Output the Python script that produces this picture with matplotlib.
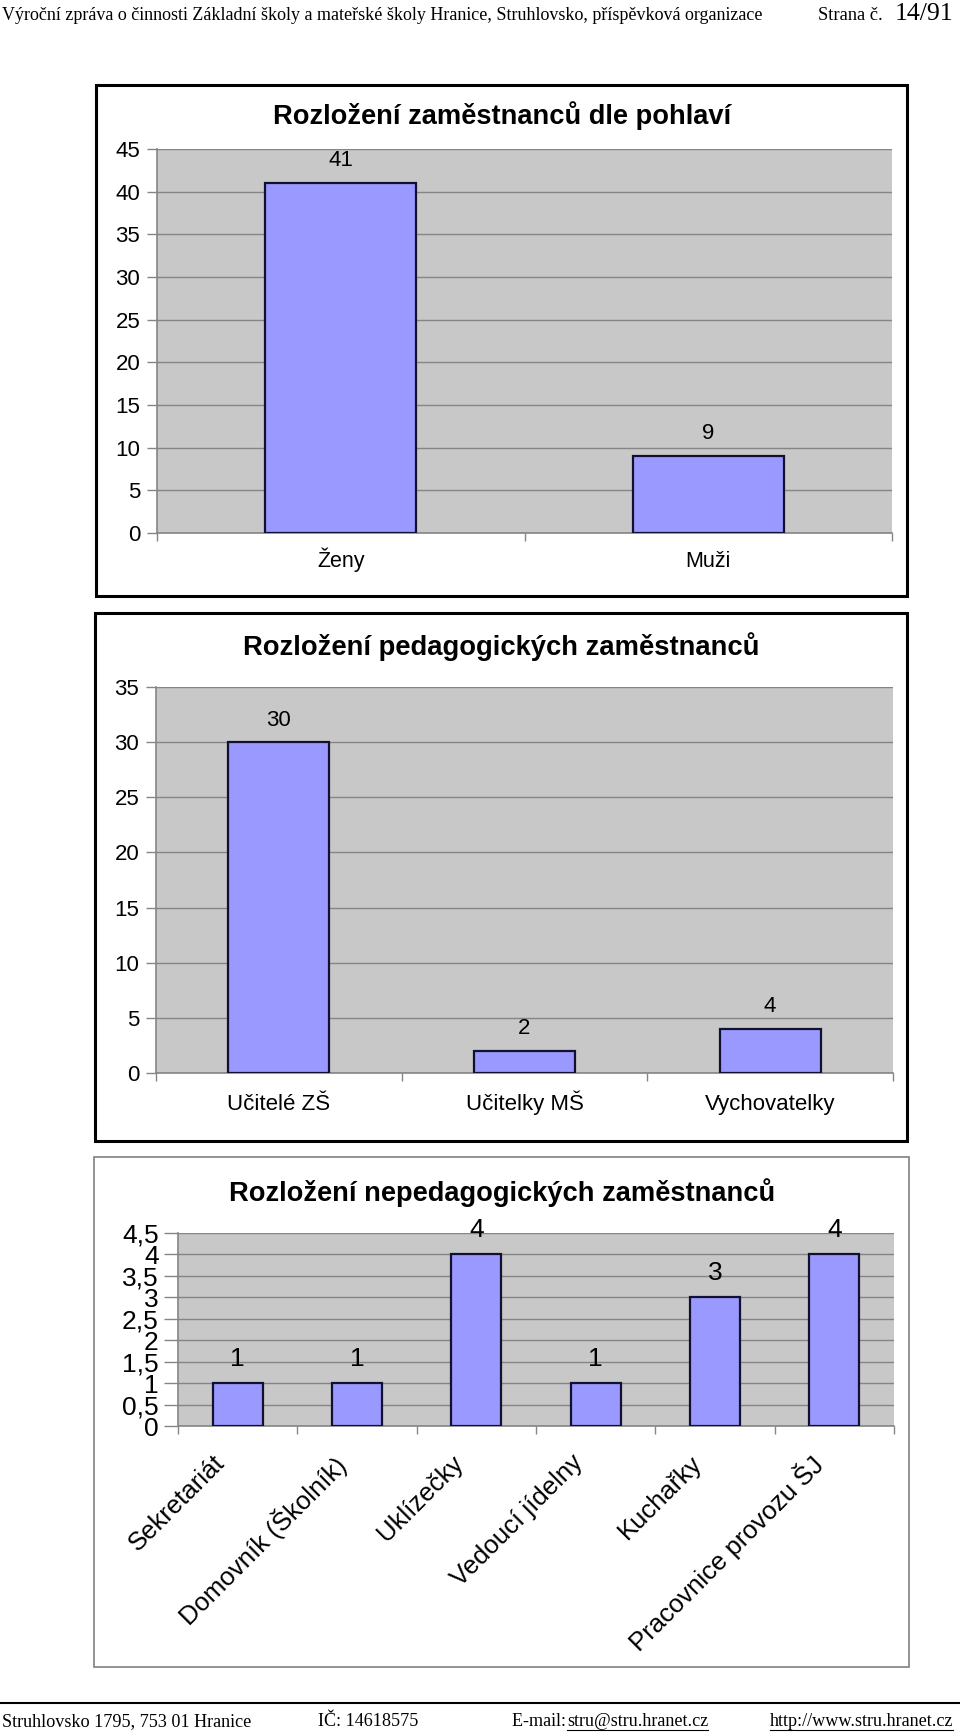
import matplotlib
matplotlib.use("Agg")
from matplotlib import pyplot as plt
from matplotlib.patches import Rectangle
from matplotlib.ticker import FuncFormatter, FixedLocator
from matplotlib.transforms import offset_copy

# data
pohlavi_kat = ["Ženy", "Muži"]
pohlavi_val = [41, 9]
pohlavi_ticks = [0, 5, 10, 15, 20, 25, 30, 35, 40, 45]

ped_kat = ["Učitelé ZŠ", "Učitelky MŠ", "Vychovatelky"]
ped_val = [30, 2, 4]
ped_ticks = [0, 5, 10, 15, 20, 25, 30, 35]

neped_kat = ["Sekretariát", "Domovník (Školník)", "Uklízečky", "Vedoucí jídelny",
             "Kuchařky", "Pracovnice provozu ŠJ"]
neped_val = [1, 1, 4, 1, 3, 4]
neped_ticks = [0, 0.5, 1, 1.5, 2, 2.5, 3, 3.5, 4, 4.5]

header_left = "Výroční zpráva o činnosti Základní školy a mateřské školy Hranice, Struhlovsko, příspěvková organizace"
footer_texts = ["Struhlovsko 1795, 753 01 Hranice", "IČ: 14618575", "E-mail: ", "stru@stru.hranet.cz",
                "http://www.stru.hranet.cz"]

W, H = 960, 1734
SANS = ["Liberation Sans", "DejaVu Sans"]
SERIF = ["Liberation Serif", "DejaVu Serif"]
BAR = "#9999FF"
BG = "#C8C8C8"
GRID = "#858585"

fig = plt.figure(figsize=(W / 100, H / 100), dpi=100)


def box(l, t, r, b):
    # pixel box -> figure fraction
    return [l / W, 1 - b / H, (r - l) / W, (b - t) / H]


def frame(l, t, r, b, color, lw):
    fig.patches.append(Rectangle((l / W, 1 - b / H), (r - l) / W, (b - t) / H,
                                 transform=fig.transFigure, fill=False,
                                 edgecolor=color, linewidth=lw, zorder=0))


def chart(pos, kat, val, ticks, ymax, title, title_x, title_y, fs_tick, fs_kat, fs_title,
          lab_off, kat_pad=20, rot=False, width=0.41, comma=False):
    ax = fig.add_axes(box(*pos))
    x = list(range(len(kat)))
    ax.bar(x, val, width=width, color=BAR, edgecolor="#101030", linewidth=1.6, zorder=3)
    ax.set_xlim(-0.5, len(kat) - 0.5)
    ax.set_ylim(0, ymax)
    ax.set_facecolor(BG)
    ax.yaxis.set_major_locator(FixedLocator(ticks))
    if comma:
        ax.yaxis.set_major_formatter(FuncFormatter(lambda v, p: ("%g" % v).replace(".", ",")))
    else:
        ax.yaxis.set_major_formatter(FuncFormatter(lambda v, p: "%d" % v))
    ax.grid(axis="y", color=GRID, linewidth=1.0, zorder=1)
    ax.tick_params(axis="y", length=7, width=1, color=GRID, pad=5, labelsize=fs_tick)
    for s in ["top", "right"]:
        ax.spines[s].set_visible(False)
    for s in ["left", "bottom"]:
        ax.spines[s].set_color(GRID)
        ax.spines[s].set_linewidth(1.2)
    # category boundary ticks
    ax.set_xticks([i - 0.5 for i in range(len(kat) + 1)], minor=True)
    ax.tick_params(axis="x", which="minor", length=6, color=GRID, width=1)
    ax.set_xticks(x)
    if rot:
        ax.set_xticklabels(kat, rotation=45, ha="right", va="top", rotation_mode="anchor",
                           fontsize=fs_kat, family=SANS)
        ax.tick_params(axis="x", which="major", length=0, pad=12)
        for lab in ax.get_xticklabels():
            lab.set_transform(offset_copy(lab.get_transform(), fig=fig, x=-25, y=-8, units="dots"))
    else:
        ax.set_xticklabels(kat, fontsize=fs_kat, family=SANS, va="baseline")
        ax.tick_params(axis="x", which="major", length=0, pad=kat_pad)
    for lab in ax.get_yticklabels():
        lab.set_family(SANS)
    for i, v in enumerate(val):
        ax.annotate(str(v), (i, v), xytext=(0, lab_off), textcoords="offset pixels",
                    ha="center", va="center", fontsize=fs_tick, family=SANS, zorder=4)
    fig.text(title_x / W, 1 - title_y / H, title,
             ha="center", va="center", fontsize=fs_title, fontweight="bold", family=SANS)
    return ax


# chart 1
frame(96, 85, 907, 596, "black", 2.2)
chart((157, 149, 892, 533), pohlavi_kat, pohlavi_val, pohlavi_ticks, 45,
      "Rozložení zaměstnanců dle pohlaví", 502, 116, 16, 15.5, 19.6, 23, kat_pad=24.5)

# chart 2
frame(95, 613, 907, 1141, "black", 2.2)
chart((156, 687, 893, 1073), ped_kat, ped_val, ped_ticks, 35,
      "Rozložení pedagogických zaměstnanců", 501, 647, 16, 16, 19.7, 22, kat_pad=26.5)

# chart 3
frame(94, 1157, 909, 1667, "#808080", 1.2)
ax3 = chart((178, 1233, 894, 1426), neped_kat, neped_val, neped_ticks, 4.5,
            "Rozložení nepedagogických zaměstnanců", 502, 1193, 19, 18.5, 19.6, 24,
            rot=True, width=0.42, comma=True)
ax3.tick_params(axis="y", length=10, pad=4)

# header
fig.text(2 / W, 1 - 16 / H, header_left, ha="left", va="center", fontsize=13, family=SERIF)
fig.text(818 / W, 1 - 16 / H, "Strana č. ", ha="left", va="center", fontsize=13.3, family=SERIF)
fig.text(953 / W, 1 - 14 / H, "14/91", ha="right", va="center", fontsize=18.5, family=SERIF)

# footer
fig.add_artist(plt.Line2D([0, 1], [1 - 1703 / H, 1 - 1703 / H], transform=fig.transFigure,
                          color="black", linewidth=1.5))
fy = 1 - 1722 / H
FS = 13.1
fig.text(2 / W, fy, footer_texts[0], ha="left", va="center", fontsize=FS, family=SERIF)
fig.text(318 / W, fy, footer_texts[1], ha="left", va="center", fontsize=FS, family=SERIF)
fig.text(512 / W, fy, footer_texts[2], ha="left", va="center", fontsize=FS, family=SERIF)
mail = fig.text(567 / W, fy, footer_texts[3], ha="left", va="center", fontsize=FS, family=SERIF)
web = fig.text(953 / W, fy, footer_texts[4], ha="right", va="center", fontsize=FS, family=SERIF)

# underline links
r = fig.canvas.get_renderer()
for t in [mail, web]:
    bb = t.get_window_extent(r).transformed(fig.transFigure.inverted())
    fig.add_artist(plt.Line2D([bb.x0, bb.x1], [bb.y0 + 1 / H, bb.y0 + 1 / H],
                              transform=fig.transFigure, color="black", linewidth=0.8))

fig.savefig("out.png", dpi=100)
